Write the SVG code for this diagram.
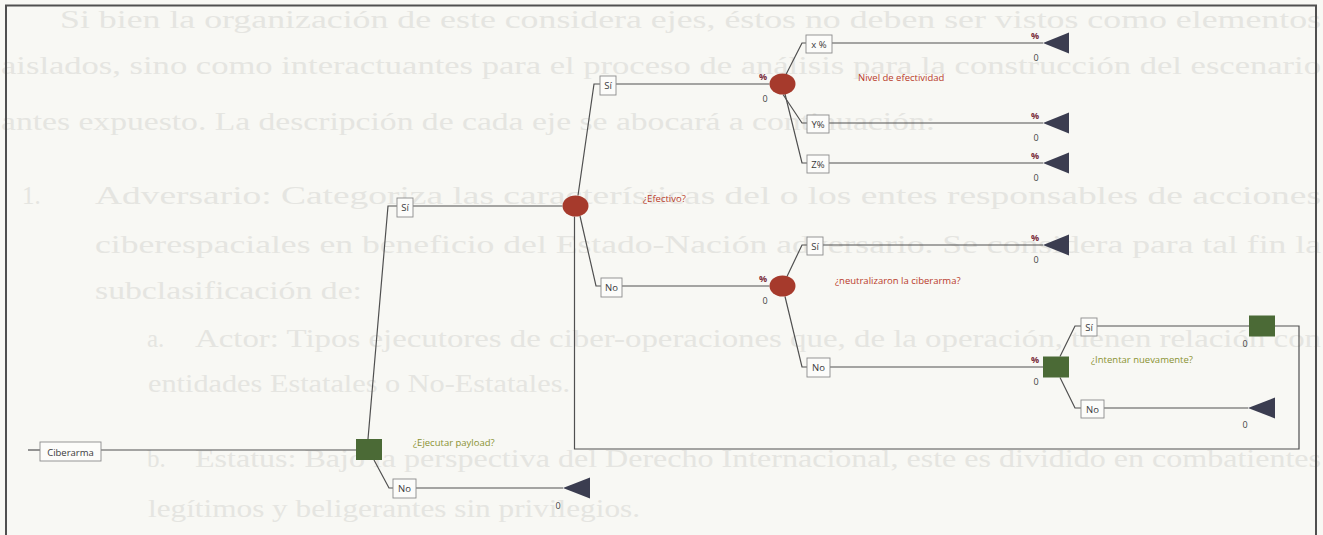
<svg xmlns="http://www.w3.org/2000/svg" width="1323" height="535" viewBox="0 0 1323 535">
  <defs>
    <style>
      .page { fill: #f8f8f4; }
      .ghost { font-family: "Liberation Serif", "Times New Roman", serif; font-size: 25px; fill: #e5e5e1; }
      .frame { fill: none; stroke: #505050; stroke-width: 2; }
      .edge { fill: none; stroke: #505050; stroke-width: 1.2; }
      .tag { fill: #fcfcfa; stroke: #8c8c8c; stroke-width: 0.9; }
      .tagtxt { font-family: "Open Sans", "Liberation Sans", sans-serif; font-size: 9.5px; fill: #3a3a3a; text-anchor: middle; }
      .chance { fill: #a63a2c; }
      .decision { fill: #4b6a36; }
      .terminal { fill: #3b3d50; }
      .qred { font-family: "Open Sans", "Liberation Sans", sans-serif; font-size: 9.5px; fill: #b83a2a; }
      .qolive { font-family: "Open Sans", "Liberation Sans", sans-serif; font-size: 9.5px; fill: #8a9232; }
      .pct { font-family: "Open Sans", "Liberation Sans", sans-serif; font-size: 9px; font-weight: bold; fill: #7a2d3c; text-anchor: middle; }
      .zero { font-family: "Open Sans", "Liberation Sans", sans-serif; font-size: 9px; fill: #444; text-anchor: middle; }
    </style>
  </defs>

  <!-- paper -->
  <rect class="page" x="0" y="0" width="1323" height="535"/>

  <!-- body text of the page, showing faintly behind the figure -->
  <g id="page-text" class="ghost">
    <text x="60" y="28" textLength="1261" lengthAdjust="spacingAndGlyphs">Si bien la organización de este considera ejes, éstos no deben ser vistos como elementos</text>
    <text x="1" y="74" textLength="1320" lengthAdjust="spacingAndGlyphs">aislados, sino como interactuantes para el proceso de análisis para la construcción del escenario</text>
    <text x="1" y="130" textLength="934" lengthAdjust="spacingAndGlyphs">antes expuesto. La descripción de cada eje se abocará a continuación:</text>
    <text x="22" y="204">1.</text>
    <text x="95" y="204" textLength="1226" lengthAdjust="spacingAndGlyphs">Adversario: Categoriza las características del o los entes responsables de acciones</text>
    <text x="95" y="253" textLength="1226" lengthAdjust="spacingAndGlyphs">ciberespaciales en beneficio del Estado-Nación adversario. Se considera para tal fin la</text>
    <text x="95" y="299" textLength="267" lengthAdjust="spacingAndGlyphs">subclasificación de:</text>
    <text x="147" y="347">a.</text>
    <text x="195" y="347" textLength="1126" lengthAdjust="spacingAndGlyphs">Actor: Tipos ejecutores de ciber-operaciones que, de la operación, tienen relación con</text>
    <text x="148" y="392" textLength="422" lengthAdjust="spacingAndGlyphs">entidades Estatales o No-Estatales.</text>
    <text x="147" y="467">b.</text>
    <text x="195" y="467" textLength="1126" lengthAdjust="spacingAndGlyphs">Estatus: Bajo la perspectiva del Derecho Internacional, este es dividido en combatientes</text>
    <text x="148" y="517" textLength="492" lengthAdjust="spacingAndGlyphs">legítimos y beligerantes sin privilegios.</text>
  </g>

  <!-- figure border -->
  <rect class="frame" x="6" y="5.5" width="1310" height="545"/>

  <!-- branches -->
  <g id="connectors" class="edge">
    <path d="M28,450H40"/>
    <path d="M101,450H356"/>
    <!-- ¿Ejecutar payload? -->
    <path d="M368,439L388,206H397"/>
    <path d="M413,206H562.5"/>
    <path d="M374,460L389,488H393"/>
    <path d="M416,488H563"/>
    <!-- ¿Efectivo? -->
    <path d="M578,195.5L594,84H600"/>
    <path d="M616,84H769.5"/>
    <path d="M580,216L596,286H601"/>
    <path d="M622,286H769.5"/>
    <!-- Nivel de efectividad -->
    <path d="M786,74.5L802,43H806"/>
    <path d="M832,43H1043"/>
    <path d="M783,94.5L802,123H807"/>
    <path d="M829,123H1043"/>
    <path d="M785,94L802,163H807"/>
    <path d="M829,163H1043"/>
    <!-- ¿neutralizaron la ciberarma? -->
    <path d="M787,276.5L802,245H807"/>
    <path d="M823,245H1043"/>
    <path d="M785,296.5L802,367H807"/>
    <path d="M830,367H1043"/>
    <!-- ¿Intentar nuevamente? -->
    <path d="M1060,356.5L1075,326H1081"/>
    <path d="M1097,326H1249"/>
    <path d="M1060,377.5L1075,408H1081"/>
    <path d="M1104,408H1248"/>
    <!-- retry loop back to ¿Efectivo? -->
    <path d="M1275,326H1299V449H574.5V216.5"/>
  </g>

  <!-- root -->
  <g id="n-ciberarma">
    <rect class="tag" x="40" y="442" width="61" height="19"/>
    <text class="tagtxt" x="70.5" y="455.5">Ciberarma</text>
  </g>

  <!-- decision: execute payload -->
  <g id="n-ejecutar">
    <rect class="decision" x="356" y="439" width="26" height="21"/>
    <text class="qolive" x="413" y="446">¿Ejecutar payload?</text>
  </g>
  <g id="b-ejecutar-si">
    <rect class="tag" x="397" y="198" width="16" height="19"/>
    <text class="tagtxt" x="405" y="211">Sí</text>
  </g>
  <g id="b-ejecutar-no">
    <rect class="tag" x="393" y="479" width="23" height="19"/>
    <text class="tagtxt" x="404.5" y="492">No</text>
  </g>
  <g id="t-ejecutar-no">
    <polygon class="terminal" points="563,488 590,477.5 590,498.5"/>
    <text class="zero" x="558" y="509">0</text>
  </g>

  <!-- chance: effective? -->
  <g id="n-efectivo">
    <ellipse class="chance" cx="575.5" cy="206" rx="13" ry="10.5"/>
    <text class="qred" x="643" y="202">¿Efectivo?</text>
  </g>
  <g id="b-efectivo-si">
    <rect class="tag" x="600" y="76" width="16" height="19"/>
    <text class="tagtxt" x="608" y="89">Sí</text>
  </g>
  <g id="b-efectivo-no">
    <rect class="tag" x="601" y="278" width="21" height="19"/>
    <text class="tagtxt" x="611.5" y="291">No</text>
  </g>

  <!-- chance: effectiveness level -->
  <g id="n-nivel">
    <ellipse class="chance" cx="782.5" cy="84" rx="13" ry="10.5"/>
    <text class="pct" x="763" y="80">%</text>
    <text class="zero" x="765" y="102">0</text>
    <text class="qred" x="858" y="81">Nivel de efectividad</text>
  </g>
  <g id="b-nivel-x">
    <rect class="tag" x="806" y="35" width="26" height="18"/>
    <text class="tagtxt" x="819" y="47.5">x %</text>
  </g>
  <g id="b-nivel-y">
    <rect class="tag" x="807" y="115" width="22" height="18"/>
    <text class="tagtxt" x="818" y="127.5">Y%</text>
  </g>
  <g id="b-nivel-z">
    <rect class="tag" x="807" y="155" width="22" height="18"/>
    <text class="tagtxt" x="818" y="167.5">Z%</text>
  </g>
  <g id="t-nivel-x">
    <polygon class="terminal" points="1043,43 1069,32.5 1069,53.5"/>
    <text class="pct" x="1035" y="39">%</text>
    <text class="zero" x="1036" y="61">0</text>
  </g>
  <g id="t-nivel-y">
    <polygon class="terminal" points="1043,123 1069,112.5 1069,133.5"/>
    <text class="pct" x="1035" y="119">%</text>
    <text class="zero" x="1036" y="141">0</text>
  </g>
  <g id="t-nivel-z">
    <polygon class="terminal" points="1043,163 1069,152.5 1069,173.5"/>
    <text class="pct" x="1035" y="159">%</text>
    <text class="zero" x="1036" y="181">0</text>
  </g>

  <!-- chance: was the weapon neutralised? -->
  <g id="n-neutralizaron">
    <ellipse class="chance" cx="782.5" cy="286" rx="13" ry="10.5"/>
    <text class="pct" x="763" y="282">%</text>
    <text class="zero" x="765" y="304">0</text>
    <text class="qred" x="835" y="284">¿neutralizaron la ciberarma?</text>
  </g>
  <g id="b-neutral-si">
    <rect class="tag" x="807" y="237" width="16" height="18"/>
    <text class="tagtxt" x="815" y="249.5">Sí</text>
  </g>
  <g id="b-neutral-no">
    <rect class="tag" x="807" y="358" width="23" height="19"/>
    <text class="tagtxt" x="818.5" y="371">No</text>
  </g>
  <g id="t-neutral-si">
    <polygon class="terminal" points="1043,245 1069,234.5 1069,255.5"/>
    <text class="pct" x="1035" y="241">%</text>
    <text class="zero" x="1036" y="263">0</text>
  </g>

  <!-- decision: try again? -->
  <g id="n-intentar">
    <rect class="decision" x="1043" y="356.5" width="26" height="21"/>
    <text class="pct" x="1035" y="363">%</text>
    <text class="zero" x="1036" y="385">0</text>
    <text class="qolive" x="1091" y="363">¿Intentar nuevamente?</text>
  </g>
  <g id="b-intentar-si">
    <rect class="tag" x="1081" y="318" width="16" height="18"/>
    <text class="tagtxt" x="1089" y="330.5">Sí</text>
  </g>
  <g id="b-intentar-no">
    <rect class="tag" x="1081" y="400" width="23" height="18"/>
    <text class="tagtxt" x="1092.5" y="412.5">No</text>
  </g>
  <g id="n-reintento">
    <rect class="decision" x="1249" y="315.5" width="26" height="21"/>
    <text class="zero" x="1245" y="347">0</text>
  </g>
  <g id="t-intentar-no">
    <polygon class="terminal" points="1248,408 1275,397.5 1275,418.5"/>
    <text class="zero" x="1245" y="428">0</text>
  </g>
</svg>
